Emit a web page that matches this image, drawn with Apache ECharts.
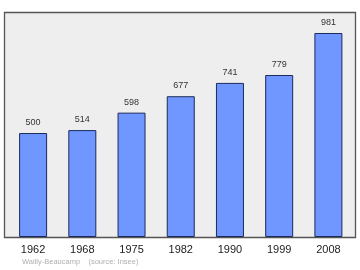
<!DOCTYPE html>
<html><head><meta charset="utf-8">
<script src="https://cdn.jsdelivr.net/npm/echarts@6/dist/echarts.min.js"></script>
<style>html,body{margin:0;padding:0;background:#fff}#c{width:360px;height:270px}</style>
</head><body><div id="c"></div>
<script>
var years = ['1962','1968','1975','1982','1990','1999','2008'];
var population = [500,514,598,677,741,779,981];
var sourceText = 'Wailly-Beaucamp    (source: Insee)';

var chart = echarts.init(document.getElementById('c'), null, {renderer:'canvas'});
chart.setOption({
  animation:false,
  backgroundColor:'#ffffff',
  graphic:[
    {type:'rect', z:-10, shape:{x:4.5,y:12.5,width:351,height:225},
     style:{fill:'#eeeeee', stroke:'#555555', lineWidth:1.3}},
    {type:'text', left:22, top:258, style:{text:sourceText, fill:'#b0b0b0', font:'7.5px "Liberation Sans", Arial, sans-serif'}}
  ],
  grid:{left:8.5, right:7, top:12, bottom:33, containLabel:false},
  xAxis:{type:'category', data:years, axisLine:{show:false}, axisTick:{show:false},
    axisLabel:{color:'#222', fontSize:11, margin:7, fontFamily:'Liberation Sans'}},
  yAxis:{type:'value', min:0, max:1082, show:false, splitLine:{show:false}},
  series:[{type:'bar', data:population, barWidth:28,
    itemStyle:{color:'#7096ff', borderColor:'#1c2a5c', borderWidth:1},
    label:{show:true, position:'top', distance:6, color:'#333', fontSize:9, fontFamily:'Liberation Sans'}}]
});
</script></body></html>
